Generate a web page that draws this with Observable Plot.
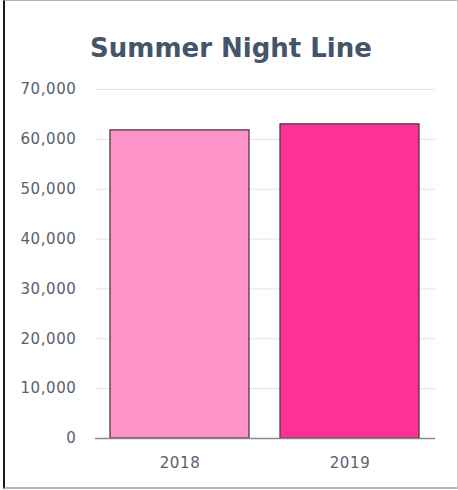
<!DOCTYPE html>
<html>
<head>
<meta charset="utf-8">
<script src="https://cdn.jsdelivr.net/npm/d3@7"></script>
<script src="https://cdn.jsdelivr.net/npm/@observablehq/plot@0.6"></script>
<style>
  html, body { margin: 0; padding: 0; background: #fff; }
  body { width: 458px; height: 490px; position: relative; overflow: hidden; }
  #frame { position: absolute; left: 3px; top: 0; width: 452px; height: 486px;
           border-left: 2px solid #1a1a1a; border-top: 1px solid #b0b0b0;
           border-right: 1px solid #c8c8c8; border-bottom: 2px solid #b8b8b8; }
  #title { position: absolute; left: 0; top: 0; width: 458px; height: 75px;
           text-align: center; line-height: 96px; font-family: "DejaVu Sans", sans-serif;
           font-weight: bold; font-size: 26px; color: #44546A; padding-left: 4px; box-sizing: border-box; }
  #chart { position: absolute; left: 0; top: 75px; }
</style>
</head>
<body>
<div id="frame"></div>
<div id="title">Summer Night Line</div>
<div id="chart"></div>
<script>
const years = ["2018", "2019"];
const riders = [61800, 63000];
const colors = ["#FF94C8", "#FF3196"];
const yTicks = [0, 10000, 20000, 30000, 40000, 50000, 60000, 70000];

const data = years.map((y, i) => ({year: y, value: riders[i]}));

const chart = Plot.plot({
  width: 458,
  height: 410,
  marginLeft: 95,
  marginRight: 23,
  marginTop: 14,
  marginBottom: 47,
  style: {fontFamily: "DejaVu Sans, sans-serif", fontSize: "15px", color: "#56606e", background: "transparent", letterSpacing: "0.6px"},
  x: {domain: years, paddingInner: 0.18, paddingOuter: 0.09, label: null},
  y: {domain: [0, 70000], label: null},
  color: {domain: years, range: colors},
  marks: [
    Plot.gridY(yTicks, {stroke: "#dfe3ea", strokeOpacity: 1, strokeWidth: 1}),
    Plot.barY(data, {x: "year", y: "value", fill: "year", stroke: "#4a3a44", strokeWidth: 1.3}),
    Plot.ruleY([0], {stroke: "#8a8a8a", strokeWidth: 1.5}),
    Plot.axisY({ticks: yTicks, tickSize: 0, tickPadding: 19, tickFormat: d3.format(","), label: null}),
    Plot.axisX({tickSize: 0, tickPadding: 19, label: null})
  ]
});
document.getElementById("chart").appendChild(chart);
</script>
</body>
</html>
